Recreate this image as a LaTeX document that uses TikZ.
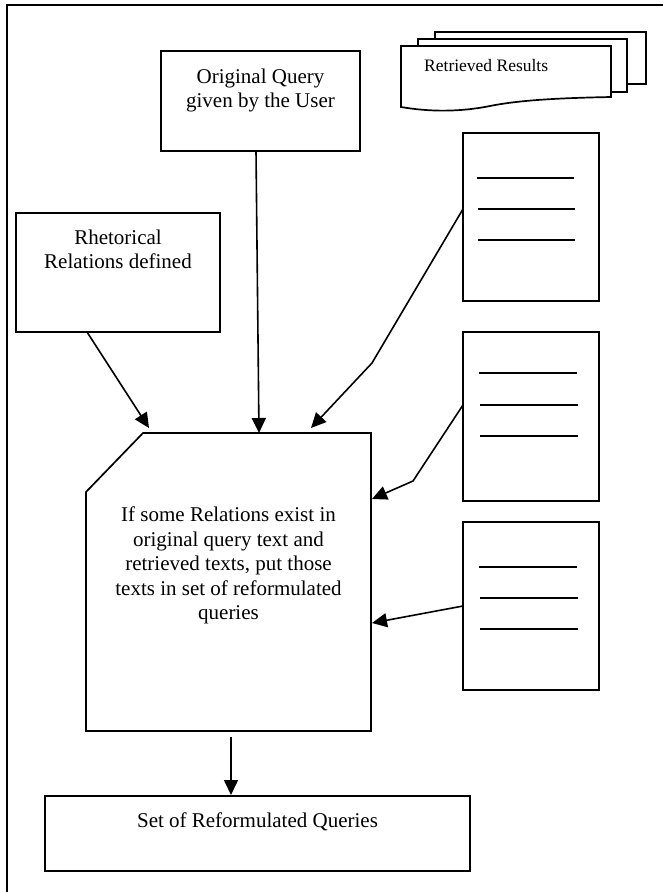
\documentclass[tikz,border=0pt]{standalone}
\usepackage{fontspec}
\setmainfont{Liberation Serif}
\usetikzlibrary{arrows.meta}
\begin{document}
\begin{tikzpicture}[x=1pt,y=-1pt,
  box/.style={draw=black,line width=1.7pt,fill=white},
  pagebox/.style={draw=black,line width=1.7pt,fill=white},
  docline/.style={line width=1.6pt},
  conn/.style={line width=1.6pt,-{Triangle[length=15pt,width=14pt]}},
  lbl/.style={inner sep=0pt,align=center,font=\fontsize{21}{24.5}\selectfont},
  smalllbl/.style={inner sep=0pt,font=\fontsize{17.5}{20}\selectfont}]
\useasboundingbox (0,0) rectangle (663,892);
% outer frame (top and left visible)
\coordinate (fbl) at (7,895);
\coordinate (ftl) at (7,5);
\coordinate (ftr) at (666,5);
\draw[line width=1.8pt] (fbl) -- (ftl) -- (ftr);

% Original query box
\draw[box] (161,51) rectangle (360,151);
\node[lbl,anchor=north] (oq) at (260.5,68.5) {Original Query\\given by the User};
\coordinate (oqb) at (256,151);

% Rhetorical relations box
\draw[box] (16,213) rectangle (220,332);
\node[lbl,anchor=north] (rr) at (118,229.5) {Rhetorical\\Relations defined};
\coordinate (rrb) at (87,332);

% Retrieved results (multi-document)
\draw[pagebox] (435,32) rectangle (646,84);
\draw[pagebox] (418,39) rectangle (627,92);
\draw[pagebox] (401,46) -- (611,46) -- (611,97)
  .. controls (560,98) and (520,100) .. (490,106)
  .. controls (460,112) and (430,112) .. (401,107) -- cycle;
\node[smalllbl,anchor=base west] (rres) at (424,71) {Retrieved Results};

% Document 1
\draw[box] (463,133) rectangle (599,301);
\draw[docline] (477,178) -- (574,178);
\draw[docline] (478,209) -- (575,209);
\draw[docline] (478,240) -- (575,240);
\coordinate (d1) at (463,209);
\coordinate (d1b) at (372,363);

% Document 2
\draw[box] (463,332) rectangle (599,501);
\draw[docline] (479,373) -- (577,373);
\draw[docline] (480,405) -- (578,405);
\draw[docline] (480,436) -- (578,436);
\coordinate (d2) at (463,405);
\coordinate (d2b) at (413,481);

% Document 3
\draw[box] (463,522) rectangle (599,690);
\draw[docline] (479,567) -- (577,567);
\draw[docline] (480,598) -- (578,598);
\draw[docline] (480,629) -- (578,629);
\coordinate (d3) at (463,606);

% Main process box (chamfered top-left corner)
\draw[box] (143,433) -- (371,433) -- (371,731) -- (86,731) -- (86,492) -- cycle;
\node[lbl,anchor=north] (mt) at (228.5,506.7)
  {If some Relations exist in\\original query text and\\retrieved texts, put those\\texts in set of reformulated\\queries};
\coordinate (mtop) at (259,433);
\coordinate (mrr) at (149,428);
\coordinate (md1) at (311,428);
\coordinate (md2) at (372,499);
\coordinate (md3) at (372,623);
\coordinate (mbot) at (231,737);

% Set of reformulated queries
\draw[box] (45,796) rectangle (470,871);
\node[lbl,anchor=base] (srq) at (257.5,827) {Set of Reformulated Queries};
\coordinate (srqt) at (231,795);

% connectors
\draw[conn] (rrb) -- (mrr);
\draw[conn] (oqb) -- (mtop);
\draw[conn] (d1) -- (d1b) -- (md1);
\draw[conn] (d2) -- (d2b) -- (md2);
\draw[conn] (d3) -- (md3);
\draw[conn] (mbot) -- (srqt);
\end{tikzpicture}
\end{document}
